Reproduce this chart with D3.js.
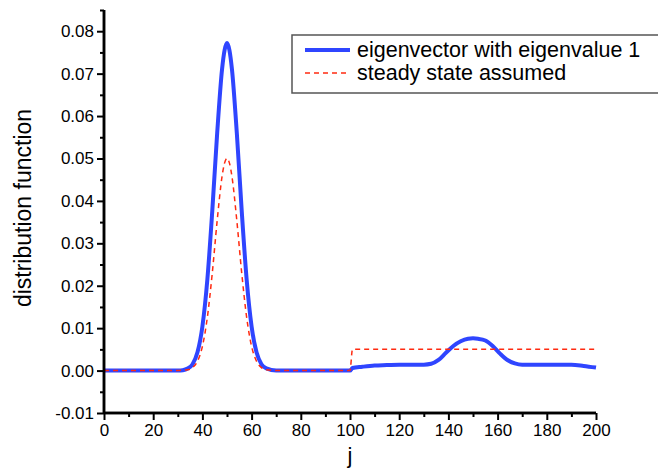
<!DOCTYPE html>
<html><head><meta charset="utf-8">
<script src="https://cdn.jsdelivr.net/npm/d3@7"></script>
<style>body{margin:0;background:#fff}svg{display:block;font-family:"Liberation Sans",Arial,sans-serif}</style>
</head><body>
<script>
const blueI = [0,30,32,34,36,38,40,42,44,46,48,49,50,51,52,54,56,58,60,62,64,66,70,100,101,105,110,115,120,125,130,133,136,139,142,145,148,150,152,155,158,161,164,167,170,175,180,185,190,195,200];
const blueV = [0,0,0.0001,0.0005,0.0015,0.0043,0.0104,0.0214,0.0375,0.0559,0.0711,0.0755,0.0772,0.0755,0.0711,0.0559,0.0375,0.0214,0.0104,0.0043,0.0015,0.0005,0,0,0.0006,0.0009,0.0012,0.0013,0.0014,0.0014,0.0014,0.0016,0.0025,0.0042,0.0058,0.0069,0.0075,0.0076,0.0075,0.0071,0.0058,0.0040,0.0025,0.0017,0.0014,0.0014,0.0014,0.0014,0.0014,0.0011,0.0007];
const redI = [0,30,32,34,36,38,40,42,44,46,48,49,50,51,52,54,56,58,60,62,64,66,70,100,101,200];
const redV = [0,0,0.0001,0.0002,0.0007,0.0022,0.0057,0.0125,0.0229,0.0353,0.0458,0.0489,0.0500,0.0489,0.0458,0.0353,0.0229,0.0125,0.0057,0.0022,0.0007,0.0002,0,0,0.0050,0.0050];
const xTicks = [0,20,40,60,80,100,120,140,160,180,200];
const yTicks = [-0.01,0,0.01,0.02,0.03,0.04,0.05,0.06,0.07,0.08];
const legendLabels = ["eigenvector with eigenvalue 1","steady state assumed"];
const xTitle = "j", yTitle = "distribution function";

const W=658,H=470;
const svg=d3.select("body").append("svg").attr("width",W).attr("height",H);
const x=d3.scaleLinear().domain([0,200]).range([104,596]);
const y=d3.scaleLinear().domain([-0.01,0.085]).range([413,10]);
const blueColor="#2f45ff", redColor="#ff2a10";

// curves
const line=d3.line().x(d=>x(d[0])).y(d=>y(d[1])).curve(d3.curveMonotoneX);
svg.append("path").datum(blueI.map((v,i)=>[v,blueV[i]])).attr("d",line)
  .attr("fill","none").attr("stroke",blueColor).attr("stroke-width",4).attr("stroke-linejoin","round");
svg.append("path").datum(redI.map((v,i)=>[v,redV[i]])).attr("d",line)
  .attr("fill","none").attr("stroke",redColor).attr("stroke-width",1.5).attr("stroke-dasharray","5,4");

// axes
const fs="17px";
const yFmt=d=>d3.format(".2f")(d).replace("−","-");
const xMinor=d3.range(10,200,20);
const gx=svg.append("g").attr("transform",`translate(0,${y(-0.01)})`);
gx.call(d3.axisBottom(x).tickValues(xTicks).tickFormat(d3.format("d")).tickSize(7).tickPadding(4));
gx.append("g").call(d3.axisBottom(x).tickValues(xMinor).tickFormat("").tickSize(4));
const gy=svg.append("g").attr("transform",`translate(${x(0)},0)`);
gy.call(d3.axisLeft(y).tickValues(yTicks).tickFormat(yFmt).tickSize(7).tickPadding(3));
gy.append("g").call(d3.axisLeft(y).tickValues(d3.range(-0.005,0.086,0.01)).tickFormat("").tickSize(4));
svg.selectAll(".domain").attr("stroke","#000").attr("stroke-width",2.5);
svg.selectAll(".tick line").attr("stroke","#000").attr("stroke-width",2);
svg.selectAll(".tick text").attr("font-size",fs).attr("font-family","Liberation Sans, Arial").attr("fill","#000");
gx.selectAll("path.domain").attr("d",`M${x(0)},0H${x(200)}`);
gy.selectAll("path.domain").attr("d",`M0,${y(0.085)}V${y(-0.01)}`);

// titles
svg.append("text").attr("x",350).attr("y",463).attr("text-anchor","middle").attr("font-size","22px").text(xTitle);
svg.append("text").attr("transform","translate(31,208) rotate(-90)").attr("text-anchor","middle").attr("font-size","23px").text(yTitle);

// legend
svg.append("rect").attr("x",292).attr("y",35).attr("width",400).attr("height",58).attr("fill","#fff").attr("stroke","#555").attr("stroke-width",1.5);
svg.append("line").attr("x1",305).attr("x2",350).attr("y1",50).attr("y2",50).attr("stroke",blueColor).attr("stroke-width",4);
svg.append("line").attr("x1",305).attr("x2",350).attr("y1",73).attr("y2",73).attr("stroke",redColor).attr("stroke-width",1.5).attr("stroke-dasharray","5,4");
svg.append("text").attr("x",357).attr("y",57).attr("font-size","21.5px").text(legendLabels[0]);
svg.append("text").attr("x",357).attr("y",80).attr("font-size","21.5px").text(legendLabels[1]);
</script>
</body></html>
